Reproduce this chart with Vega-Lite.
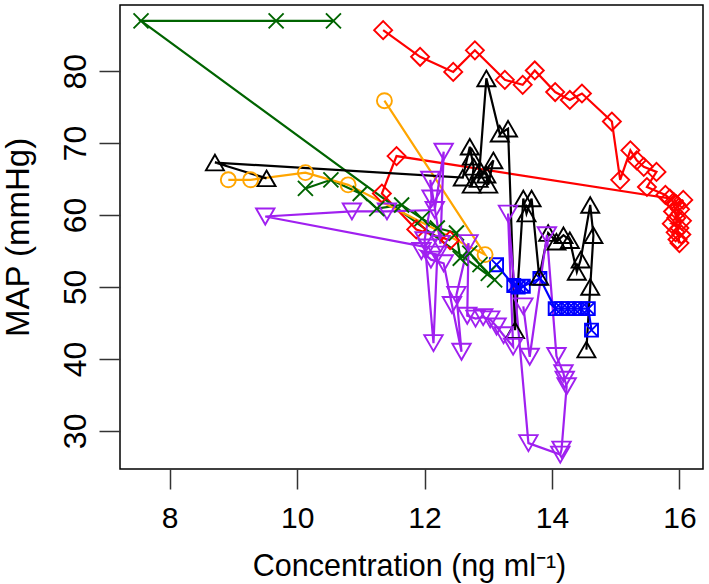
{
"$schema": "https://vega.github.io/schema/vega-lite/v6.json",
"width": 583, "height": 464,
"autosize": {"type": "none"},
"padding": {"left": 120, "top": 5, "right": 6, "bottom": 115},
"background": "white",
"config": {"view": {"stroke": "#000", "strokeWidth": 1.5}, "font": "Liberation Sans"},
"data": {"values": [
{"s":"r","i":1,"c":12.40,"m":56.5},{"s":"r","i":2,"c":11.87,"m":58.0},{"s":"r","i":3,"c":11.33,"m":63.0},{"s":"r","i":4,"c":11.56,"m":68.2},{"s":"r","i":5,"c":15.85,"m":62.3},{"s":"r","i":6,"c":15.95,"m":61.5},{"s":"r","i":7,"c":16.06,"m":62.1},{"s":"r","i":8,"c":15.90,"m":60.5},{"s":"r","i":9,"c":16.01,"m":60.8},{"s":"r","i":10,"c":15.95,"m":59.6},{"s":"r","i":11,"c":16.04,"m":59.2},{"s":"r","i":12,"c":15.88,"m":58.8},{"s":"r","i":13,"c":16.00,"m":58.2},{"s":"r","i":14,"c":15.94,"m":57.6},{"s":"r","i":15,"c":16.03,"m":57.3},{"s":"r","i":16,"c":15.97,"m":56.6},{"s":"r","i":17,"c":16.00,"m":56.1},{"s":"r","i":18,"c":15.91,"m":61.8},{"s":"r","i":19,"c":15.78,"m":62.8},{"s":"r","i":20,"c":15.49,"m":63.9},{"s":"r","i":21,"c":15.64,"m":66.0},{"s":"r","i":22,"c":15.44,"m":66.7},{"s":"r","i":23,"c":15.33,"m":67.6},{"s":"r","i":24,"c":15.23,"m":69.0},{"s":"r","i":25,"c":15.07,"m":64.9},{"s":"r","i":26,"c":14.94,"m":73.0},{"s":"r","i":27,"c":14.47,"m":76.9},{"s":"r","i":28,"c":14.28,"m":76.0},{"s":"r","i":29,"c":14.05,"m":77.1},{"s":"r","i":30,"c":13.73,"m":80.1},{"s":"r","i":31,"c":13.54,"m":78.1},{"s":"r","i":32,"c":13.26,"m":78.8},{"s":"r","i":33,"c":12.79,"m":82.9},{"s":"r","i":34,"c":12.45,"m":79.9},{"s":"r","i":35,"c":11.93,"m":82.0},{"s":"r","i":36,"c":11.35,"m":85.7},
{"s":"g","i":1,"c":10.57,"m":87.0},{"s":"g","i":2,"c":9.67,"m":87.0},{"s":"g","i":3,"c":7.55,"m":87.0},{"s":"g","i":4,"c":13.10,"m":51.0},{"s":"g","i":5,"c":13.00,"m":51.9},{"s":"g","i":6,"c":12.87,"m":53.1},{"s":"g","i":7,"c":12.71,"m":54.7},{"s":"g","i":8,"c":12.56,"m":54.0},{"s":"g","i":9,"c":12.50,"m":57.5},{"s":"g","i":10,"c":12.20,"m":58.2},{"s":"g","i":11,"c":11.96,"m":59.5},{"s":"g","i":12,"c":11.64,"m":61.4},{"s":"g","i":13,"c":11.25,"m":60.9},{"s":"g","i":14,"c":10.99,"m":63.0},{"s":"g","i":15,"c":10.53,"m":64.9},{"s":"g","i":16,"c":10.13,"m":63.7},
{"s":"o","i":1,"c":8.92,"m":64.9},{"s":"o","i":2,"c":9.27,"m":64.9},{"s":"o","i":3,"c":10.13,"m":65.9},{"s":"o","i":4,"c":10.80,"m":64.2},{"s":"o","i":5,"c":12.95,"m":54.5},{"s":"o","i":6,"c":11.37,"m":75.9},
{"s":"k","i":1,"c":9.52,"m":65.1},{"s":"k","i":2,"c":8.71,"m":67.3},{"s":"k","i":3,"c":12.60,"m":65.2},{"s":"k","i":4,"c":12.71,"m":69.5},{"s":"k","i":5,"c":12.74,"m":68.1},{"s":"k","i":6,"c":12.77,"m":66.7},{"s":"k","i":7,"c":12.74,"m":64.2},{"s":"k","i":8,"c":12.87,"m":66.3},{"s":"k","i":9,"c":12.97,"m":65.6},{"s":"k","i":10,"c":13.00,"m":64.2},{"s":"k","i":11,"c":13.08,"m":67.6},{"s":"k","i":12,"c":12.85,"m":65.0},{"s":"k","i":13,"c":12.97,"m":79.0},{"s":"k","i":14,"c":13.18,"m":71.3},{"s":"k","i":15,"c":13.31,"m":72.0},{"s":"k","i":16,"c":13.42,"m":44.0},{"s":"k","i":17,"c":13.55,"m":62.3},{"s":"k","i":18,"c":13.60,"m":60.2},{"s":"k","i":19,"c":13.68,"m":62.3},{"s":"k","i":20,"c":13.80,"m":51.4},{"s":"k","i":21,"c":13.94,"m":57.5},{"s":"k","i":22,"c":14.07,"m":56.3},{"s":"k","i":23,"c":14.18,"m":57.2},{"s":"k","i":24,"c":14.28,"m":56.5},{"s":"k","i":25,"c":14.39,"m":52.1},{"s":"k","i":26,"c":14.45,"m":53.8},{"s":"k","i":27,"c":14.60,"m":61.4},{"s":"k","i":28,"c":14.65,"m":57.2},{"s":"k","i":29,"c":14.60,"m":50.0},{"s":"k","i":30,"c":14.54,"m":41.3},
{"s":"p","i":1,"c":12.05,"m":55.5},{"s":"p","i":2,"c":9.50,"m":59.8},{"s":"p","i":3,"c":10.86,"m":60.5},{"s":"p","i":4,"c":11.41,"m":60.5},{"s":"p","i":5,"c":12.16,"m":60.7},{"s":"p","i":6,"c":12.30,"m":68.8},{"s":"p","i":7,"c":12.25,"m":56.0},{"s":"p","i":8,"c":12.09,"m":64.9},{"s":"p","i":9,"c":12.11,"m":62.3},{"s":"p","i":10,"c":12.00,"m":56.5},{"s":"p","i":11,"c":12.14,"m":42.2},{"s":"p","i":12,"c":12.20,"m":54.5},{"s":"p","i":13,"c":11.95,"m":55.0},{"s":"p","i":14,"c":12.10,"m":53.8},{"s":"p","i":15,"c":12.30,"m":53.3},{"s":"p","i":16,"c":12.43,"m":47.5},{"s":"p","i":17,"c":12.58,"m":41.0},{"s":"p","i":18,"c":12.50,"m":48.9},{"s":"p","i":19,"c":12.69,"m":56.1},{"s":"p","i":20,"c":12.67,"m":46.0},{"s":"p","i":21,"c":12.80,"m":45.6},{"s":"p","i":22,"c":12.92,"m":45.8},{"s":"p","i":23,"c":13.03,"m":45.5},{"s":"p","i":24,"c":13.13,"m":44.5},{"s":"p","i":25,"c":13.24,"m":43.3},{"s":"p","i":26,"c":13.39,"m":41.7},{"s":"p","i":27,"c":13.31,"m":60.2},{"s":"p","i":28,"c":13.63,"m":28.3},{"s":"p","i":29,"c":14.13,"m":26.7},{"s":"p","i":30,"c":14.15,"m":27.4},{"s":"p","i":31,"c":14.23,"m":36.2},{"s":"p","i":32,"c":14.20,"m":37.1},{"s":"p","i":33,"c":14.18,"m":38.0},{"s":"p","i":34,"c":14.07,"m":40.4},{"s":"p","i":35,"c":13.92,"m":57.2},{"s":"p","i":36,"c":13.65,"m":40.3},{"s":"p","i":37,"c":13.55,"m":47.3},
{"s":"b","i":1,"c":13.13,"m":53.1},{"s":"b","i":2,"c":13.40,"m":50.2},{"s":"b","i":3,"c":13.47,"m":50.0},{"s":"b","i":4,"c":13.55,"m":50.1},{"s":"b","i":5,"c":13.81,"m":51.2},{"s":"b","i":6,"c":14.05,"m":47.0},{"s":"b","i":7,"c":14.15,"m":47.0},{"s":"b","i":8,"c":14.25,"m":47.0},{"s":"b","i":9,"c":14.35,"m":47.0},{"s":"b","i":10,"c":14.45,"m":47.0},{"s":"b","i":11,"c":14.57,"m":47.0},{"s":"b","i":12,"c":14.62,"m":44.0}
]},
"encoding": {
  "x": {"field": "c", "type": "quantitative",
    "scale": {"domain": [7.22, 16.37], "nice": false, "zero": false},
    "axis": {"values": [8, 10, 12, 14, 16], "title": "Concentration (ng ml⁻¹)", "grid": false, "domain": false,
      "tickSize": 20, "tickWidth": 1.5, "tickColor": "#333", "labelFontSize": 30, "labelColor": "#000",
      "labelBaseline": "alphabetic", "labelPadding": 38, "labelFlush": false, "labelOverlap": false,
      "titleFontSize": 30.5, "titleFontWeight": "normal", "titleColor": "#000", "titleX": 289, "titleY": 106,
      "titleBaseline": "alphabetic", "titleAlign": "center"}},
  "y": {"field": "m", "type": "quantitative",
    "scale": {"domain": [24.7, 89.2], "nice": false, "zero": false},
    "axis": {"values": [30, 40, 50, 60, 70, 80], "title": "MAP (mmHg)", "grid": false, "domain": false,
      "tickSize": 21, "tickWidth": 1.5, "tickColor": "#333", "labelFontSize": 32, "labelColor": "#000",
      "labelAngle": -90, "labelAlign": "center", "labelBaseline": "alphabetic", "labelPadding": 14,
      "labelFlush": false, "labelOverlap": false,
      "titleFontSize": 33, "titleFontWeight": "normal", "titleColor": "#000", "titleAngle": -90,
      "titleX": -92, "titleY": 232, "titleBaseline": "alphabetic", "titleAlign": "center"}},
  "color": {"field": "s", "type": "nominal", "legend": null,
    "scale": {"domain": ["r", "g", "o", "k", "p", "b"], "range": ["#FF0000", "#006400", "#FFA500", "#000000", "#A020F0", "#0000FF"]}},
  "order": {"field": "i", "type": "quantitative"}
},
"layer": [
  {"mark": {"type": "line", "strokeWidth": 2.2}},
  {"mark": {"type": "point", "filled": false, "strokeWidth": 1.9, "size": 400, "opacity": 1},
   "encoding": {"shape": {"field": "s", "type": "nominal", "legend": null,
     "scale": {"domain": ["r", "g", "o", "k", "p", "b"],
       "range": ["M-0.9,0L0,-0.9L0.9,0L0,0.9Z",
                 "M-0.75,-0.75L0.75,0.75M-0.75,0.75L0.75,-0.75",
                 "M-0.75,0A0.75,0.75,0,1,0,0.75,0A0.75,0.75,0,1,0,-0.75,0Z",
                 "M0,-0.78L0.9,0.78L-0.9,0.78Z",
                 "M-0.92,-0.8L0.92,-0.8L0,0.8Z",
                 "M-0.65,-0.65L0.65,-0.65L0.65,0.65L-0.65,0.65ZM-0.65,-0.65L0.65,0.65M-0.65,0.65L0.65,-0.65"]}}}}
]
}
